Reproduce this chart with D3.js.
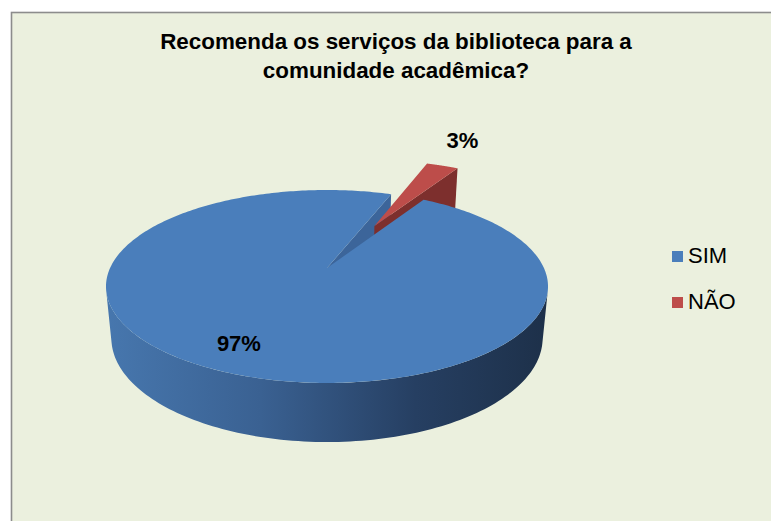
<!DOCTYPE html>
<html>
<head>
<meta charset="utf-8">
<script src="https://cdn.jsdelivr.net/npm/d3@7"></script>
<style>
  body { margin: 0; background: #fff; }
  svg { display: block; font-family: "Liberation Sans", Arial, sans-serif; }
</style>
</head>
<body>
<div id="chart"></div>
<script>
(function(){

var categories = ["SIM", "NÃO"];
var values = [97, 3];
var labels = ["97%", "3%"];
var explode = [0, 0.55];
var titleLines = ["Recomenda os serviços da biblioteca para a", "comunidade acadêmica?"];

var width = 771, height = 521;

var svg = d3.select("#chart").append("svg")
  .attr("width", width)
  .attr("height", height);

// chart area background with grey frame (only top/left edges are inside the picture)
svg.append("rect")
  .attr("x", 11.5).attr("y", 12.5)
  .attr("width", width + 20).attr("height", height + 20)
  .attr("fill", "#EBF0DE")
  .attr("stroke", "#8c8c8c")
  .attr("stroke-width", 1.6);

// title
svg.append("text")
  .attr("x", 396).attr("y", 49)
  .attr("text-anchor", "middle")
  .attr("font-size", "22.4px")
  .attr("font-weight", "bold")
  .attr("fill", "#000")
  .selectAll("tspan")
  .data(titleLines)
  .enter().append("tspan")
    .attr("x", 396)
    .attr("dy", function(d, i){ return i == 0 ? 0 : 29; })
    .text(function(d){ return d; });

// simple perspective camera for the 3d pie (unit radius pie)
var cx = 327, cy = 268,
    sinP = 0.4284, cosP = 0.9036,
    D = 4.716, F = 1023,
    thick = 0.265;

function proj(a, b, y) {
  var depth = D - (y * sinP + b * cosP);
  return [cx + F * a / depth, cy + F * (b * sinP - y * cosP) / depth];
}

function ring(t0, t1, y, off, n) {
  var pts = [];
  for (var i = 0; i <= n; i++) {
    var t = t0 + (t1 - t0) * i / n;
    pts.push(proj(Math.sin(t) + off[0], -Math.cos(t) + off[1], y));
  }
  return pts;
}

var line = d3.line();

var color = d3.scaleOrdinal()
  .domain(categories)
  .range(["#4A7EBB", "#BD4D4A"]);
var sideColor = d3.scaleOrdinal()
  .domain(categories)
  .range(["#3C659A", "#7D2F2D"]);

var rad = Math.PI / 180;
var pie = d3.pie()
  .sort(null)
  .startAngle(31.2 * rad)
  .endAngle(31.2 * rad + 2 * Math.PI)
  .value(function(d){ return d; });

var arcs = pie(values).map(function(p, i) {
  var mid = (p.startAngle + p.endAngle) / 2;
  return {
    i: i, cat: categories[i], label: labels[i], ex: explode[i],
    t0: p.startAngle, t1: p.endAngle, mid: mid,
    off: [explode[i] * Math.sin(mid), -explode[i] * Math.cos(mid)]
  };
});

// gradients for the outer wall
var defs = svg.append("defs");
var grad = defs.append("linearGradient")
  .attr("id", "wall0")
  .attr("gradientUnits", "userSpaceOnUse")
  .attr("x1", cx - 222).attr("y1", 0)
  .attr("x2", cx + 222).attr("y2", 0);
grad.selectAll("stop")
  .data([["0%", "#4777AE"], ["35%", "#3A6192"], ["70%", "#263F62"], ["100%", "#1D3049"]])
  .enter().append("stop")
    .attr("offset", function(d){ return d[0]; })
    .attr("stop-color", function(d){ return d[1]; });
var gradR = defs.append("linearGradient")
  .attr("id", "wall1")
  .attr("gradientUnits", "userSpaceOnUse")
  .attr("x1", cx - 222).attr("y1", 0)
  .attr("x2", cx + 222).attr("y2", 0);
gradR.selectAll("stop")
  .data([["0%", "#A8423F"], ["100%", "#5E2321"]])
  .enter().append("stop")
    .attr("offset", function(d){ return d[0]; })
    .attr("stop-color", function(d){ return d[1]; });

// visible range of the outer wall
var vis = Math.acos(-1 / (D * cosP));
var visLo = vis, visHi = 2 * Math.PI - vis;

var gWalls = svg.append("g"),
    gCuts = svg.append("g"),
    gCutsEx = svg.append("g"),
    gTopsEx = svg.append("g"),
    gTops = svg.append("g");

arcs.forEach(function(s) {
  var y0 = 0, y1 = -thick;

  // outer wall
  for (var k = -1; k <= 1; k++) {
    var lo = Math.max(s.t0, visLo + 2 * Math.PI * k),
        hi = Math.min(s.t1, visHi + 2 * Math.PI * k);
    if (hi > lo) {
      var top = ring(lo, hi, y0, s.off, 120),
          bot = ring(lo, hi, y1, s.off, 120).reverse();
      gWalls.append("path")
        .attr("d", line(top.concat(bot)) + "Z")
        .attr("fill", "url(#wall" + s.i + ")");
    }
  }

  // radial cut faces
  var c0 = proj(s.off[0], s.off[1], y0), c1 = proj(s.off[0], s.off[1], y1);
  [[s.t0, -1], [s.t1, 1]].forEach(function(f) {
    if (f[1] * Math.sin(f[0]) > 0) {
      var o0 = proj(Math.sin(f[0]) + s.off[0], -Math.cos(f[0]) + s.off[1], y0),
          o1 = proj(Math.sin(f[0]) + s.off[0], -Math.cos(f[0]) + s.off[1], y1);
      (s.ex > 0 ? gCutsEx : gCuts).append("path")
        .attr("d", line([c0, o0, o1, c1]) + "Z")
        .attr("fill", sideColor(s.cat));
    }
  });

  // top face
  var pts = [c0].concat(ring(s.t0, s.t1, y0, s.off, 360));
  (s.ex > 0 ? gTopsEx : gTops).append("path")
    .attr("d", line(pts) + "Z")
    .attr("fill", color(s.cat));
});

// data labels: inside for the big slice, beyond the rim for the exploded one
arcs.forEach(function(s) {
  var p, x, y;
  if (s.ex > 0) {
    var r = 1 + s.ex;
    p = proj(r * Math.sin(s.mid), -r * Math.cos(s.mid), 0);
    x = p[0] + 20; y = p[1] - 18;
  } else {
    p = proj(0.78 * Math.sin(s.mid), -0.78 * Math.cos(s.mid), 0);
    x = p[0] - 3; y = p[1] + 8;
  }
  svg.append("text")
    .attr("x", x).attr("y", y)
    .attr("text-anchor", "middle")
    .attr("font-size", "22px")
    .attr("font-weight", "bold")
    .attr("fill", "#000")
    .text(s.label);
});

// legend
var legend = svg.selectAll(".legend")
  .data(categories)
  .enter().append("g")
    .attr("class", "legend")
    .attr("transform", function(d, i){ return "translate(672," + (251 + i * 46) + ")"; });
legend.append("rect")
  .attr("width", 11).attr("height", 11)
  .attr("fill", function(d){ return color(d); });
legend.append("text")
  .attr("x", 16).attr("y", 12)
  .attr("font-size", "22px")
  .attr("fill", "#000")
  .text(function(d){ return d; });

})();
</script>
</body>
</html>
